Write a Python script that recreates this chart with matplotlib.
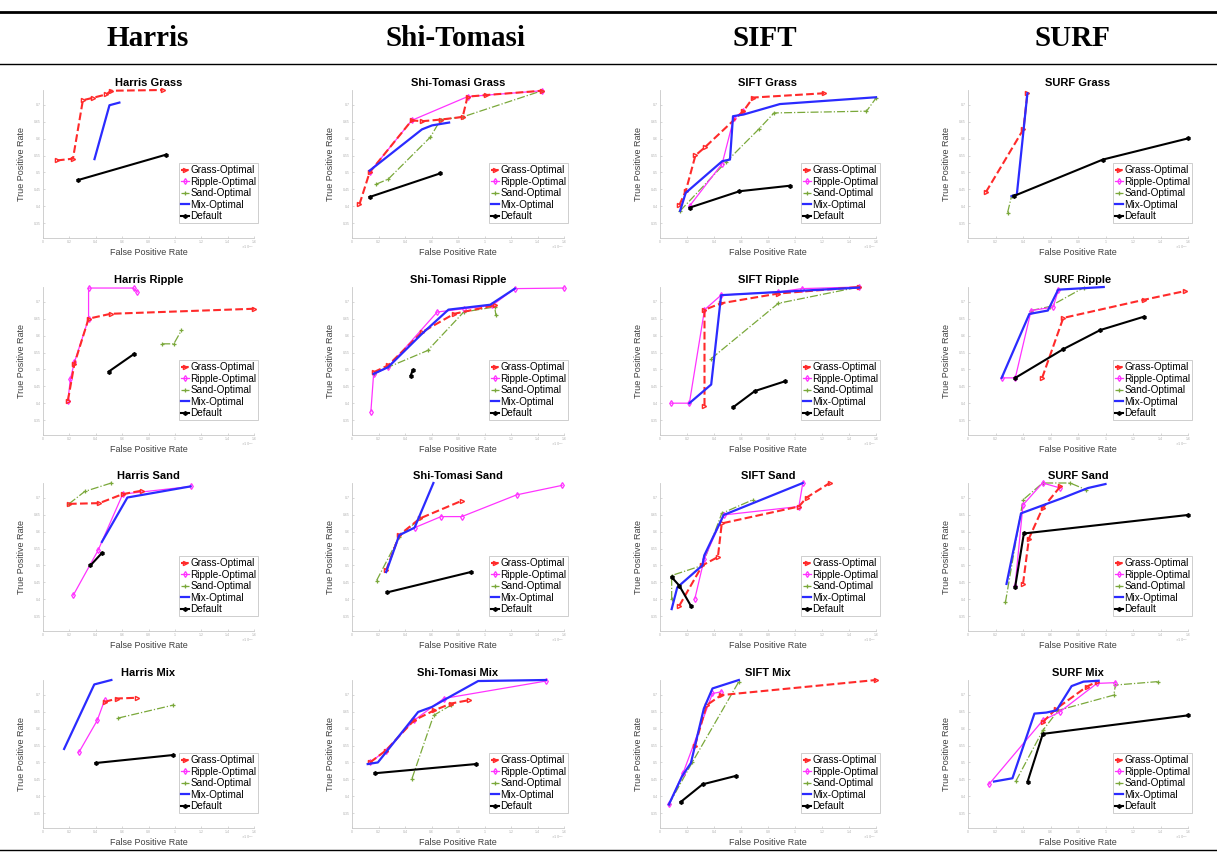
import numpy as np
import matplotlib
matplotlib.use("Agg")
import matplotlib.pyplot as plt
from matplotlib.lines import Line2D

plt.rcParams['font.family'] = ['Liberation Sans', 'DejaVu Sans']

# detectors (columns) and terrains (rows)
detectores = ['Harris', 'Shi-Tomasi', 'SIFT', 'SURF']
terrenos = ['Grass', 'Ripple', 'Sand', 'Mix']
series = ['Grass-Optimal', 'Ripple-Optimal', 'Sand-Optimal', 'Mix-Optimal', 'Default']

# datos (FPR, TPR normalizados al rango del eje)
harris_grass = {
    'Grass-Optimal': ([.066, .142, .189, .236, .299, .323, .567], [.524, .536, .931, .947, .970, .995, 1.0]),
    'Mix-Optimal': ([.244, .315, .362], [.533, .897, .915]),
    'Default': ([.165, .583], [.391, .563]),
}
shi_grass = {
    'Sand-Optimal': ([.115, .171, .37, .418, .522, .896], [.364, .398, .682, .8, .818, .995]),
    'Ripple-Optimal': ([.083, .282, .545, .896], [.443, .795, .955, .995]),
    'Grass-Optimal': ([.035, .083, .282, .330, .418, .522, .545, .633, .896], [.227, .443, .795, .789, .8, .818, .955, .966, .995]),
    'Mix-Optimal': ([.083, .330, .378, .458], [.455, .734, .761, .780]),
    'Default': ([.083, .415], [.277, .436]),
}
sift_grass = {
    'Sand-Optimal': ([.093, .306, .457, .528, .956, 1.0], [.183, .514, .735, .845, .857, .945]),
    'Ripple-Optimal': ([.137, .288, .342, .386], [.216, .503, .812, .857]),
    'Grass-Optimal': ([.089, .119, .164, .208, .386, .431, .760], [.221, .316, .558, .613, .857, .949, .978]),
    'Mix-Optimal': ([.093, .119, .288, .324, .338, .386, .555, 1.0], [.183, .305, .519, .530, .823, .834, .905, .951]),
    'Default': ([.137, .368, .600], [.205, .316, .353]),
}
surf_grass = {
    'Sand-Optimal': ([.18, .198], [.172, .283]),
    'Grass-Optimal': ([.081, .252, .27], [.309, .735, .978]),
    'Mix-Optimal': ([.198, .222, .270], [.283, .294, .978]),
    'Default': ([.207, .613, 1.0], [.283, .530, .673]),
}
harris_ripple = {
    'Sand-Optimal': ([.565, .620, .656], [.616, .616, .707]),
    'Ripple-Optimal': ([.118, .130, .149, .216, .216, .429, .447], [.233, .379, .492, .786, .993, .993, .966]),
    'Grass-Optimal': ([.118, .149, .216, .321, 1.0], [.233, .481, .786, .819, .853]),
    'Default': ([.312, .433], [.429, .549]),
}
shi_ripple = {
    'Sand-Optimal': ([.102, .170, .357, .527, .673, .679], [.413, .458, .571, .831, .865, .808]),
    'Ripple-Optimal': ([.089, .102, .170, .402, .527, .661, .768, 1.0], [.158, .413, .458, .831, .853, .876, .989, .993]),
    'Grass-Optimal': ([.102, .170, .330, .482, .673], [.424, .470, .695, .819, .876]),
    'Mix-Optimal': ([.102, .170, .330, .455, .652, .768], [.413, .458, .684, .847, .880, .989]),
    'Default': ([.277, .286], [.402, .436]),
}
sift_ripple = {
    'Sand-Optimal': ([.237, .548, .922], [.516, .890, 1.0]),
    'Ripple-Optimal': ([.05, .136, .206, .283, .548, .657, .922], [.215, .215, .846, .945, .967, .989, 1.0]),
    'Grass-Optimal': ([.206, .206, .283, .548, .922], [.198, .846, .890, .956, 1.0]),
    'Mix-Optimal': ([.136, .237, .283, .922], [.215, .341, .945, .996]),
    'Default': ([.338, .439, .579], [.187, .297, .363]),
}
surf_ripple = {
    'Sand-Optimal': ([.287, .371, .525], [.841, .868, .995]),
    'Ripple-Optimal': ([.153, .215, .287, .387, .41], [.386, .386, .841, .864, .977]),
    'Grass-Optimal': ([.337, .433, .801, .988], [.386, .791, .914, .973]),
    'Mix-Optimal': ([.153, .279, .363, .41, .617], [.386, .818, .841, .982, 1.0]),
    'Default': ([.215, .433, .601, .801], [.386, .580, .709, .80]),
}
harris_sand = {
    'Sand-Optimal': ([.123, .198, .324], [.859, .943, 1.0]),
    'Ripple-Optimal': ([.144, .261, .378, .703], [.243, .545, .925, .977]),
    'Grass-Optimal': ([.123, .267, .378, .468], [.859, .864, .925, .948]),
    'Mix-Optimal': ([.279, .4, .699], [.602, .902, .977]),
    'Default': ([.225, .279], [.443, .527]),
}
shi_sand = {
    'Sand-Optimal': ([.116, .223, .321], [.341, .636, .761]),
    'Ripple-Optimal': ([.295, .42, .518, .777, .991], [.698, .773, .773, .920, .984]),
    'Grass-Optimal': ([.161, .223, .321, .518], [.409, .648, .761, .880]),
    'Mix-Optimal': ([.161, .223, .295, .384], [.398, .648, .698, 1.0]),
    'Default': ([.166, .559], [.261, .398]),
}
sift_sand = {
    'Sand-Optimal': ([.054, .054, .196, .286, .429], [.216, .375, .443, .795, .886]),
    'Ripple-Optimal': ([.161, .205, .295, .643, .661], [.216, .489, .784, .841, 1.0]),
    'Grass-Optimal': ([.089, .196, .268, .286, .643, .679, .786], [.170, .443, .5, .727, .841, .902, 1.0]),
    'Mix-Optimal': ([.054, .080, .196, .205, .295, .661], [.148, .295, .443, .511, .784, 1.0]),
    'Default': ([.054, .089, .143], [.364, .307, .170]),
}
surf_sand = {
    'Sand-Optimal': ([.170, .25, .339, .464, .536], [.193, .886, 1.0, 1.0, .955]),
    'Ripple-Optimal': ([.214, .25, .339, .420], [.307, .852, 1.0, .966]),
    'Grass-Optimal': ([.25, .277, .339, .420], [.318, .625, .830, .977]),
    'Mix-Optimal': ([.175, .241, .429, .545, .625], [.318, .795, .898, .966, .993]),
    'Default': ([.214, .254, 1.0], [.295, .659, .784]),
}
harris_mix = {
    'Sand-Optimal': ([.357, .616], [.743, .830]),
    'Ripple-Optimal': ([.170, .257, .292], [.511, .727, .864]),
    'Grass-Optimal': ([.292, .351, .446], [.852, .875, .880]),
    'Mix-Optimal': ([.1, .243, .324], [.534, .970, 1.0]),
    'Default': ([.249, .616], [.439, .493]),
}
shi_mix = {
    'Sand-Optimal': ([.283, .385, .467], [.334, .761, .830]),
    'Ripple-Optimal': ([.085, .159, .292, .433, .915], [.443, .523, .727, .875, .993]),
    'Grass-Optimal': ([.085, .159, .292, .388, .467, .552], [.443, .523, .727, .795, .841, .864]),
    'Mix-Optimal': ([.074, .122, .312, .377, .433, .595, .915], [.432, .443, .784, .818, .864, .993, 1.0]),
    'Default': ([.108, .584], [.370, .432]),
}
sift_mix = {
    'Sand-Optimal': ([.041, .149, .365], [.159, .443, .989]),
    'Ripple-Optimal': ([.041, .108, .243, .284], [.159, .375, .909, .92]),
    'Grass-Optimal': ([.162, .216, .284, 1.0], [.557, .830, .898, 1.0]),
    'Mix-Optimal': ([.041, .103, .143, .203, .243, .365], [.159, .352, .439, .807, .943, 1.0]),
    'Default': ([.095, .197, .351], [.175, .295, .352]),
}
surf_mix = {
    'Sand-Optimal': ([.218, .340, .41, .663, .670, .862], [.318, .659, .795, .898, .966, .989]),
    'Ripple-Optimal': ([.095, .340, .417, .586, .670], [.295, .727, .784, .977, .982]),
    'Grass-Optimal': ([.34, .402, .54, .586], [.716, .807, .955, .989]),
    'Mix-Optimal': ([.118, .202, .302, .356, .402, .471, .525, .594], [.314, .336, .773, .780, .795, .959, .989, .995]),
    'Default': ([.271, .340, 1.0], [.314, .636, .761]),
}

paneles = [
    [harris_grass, shi_grass, sift_grass, surf_grass],
    [harris_ripple, shi_ripple, sift_ripple, surf_ripple],
    [harris_sand, shi_sand, sift_sand, surf_sand],
    [harris_mix, shi_mix, sift_mix, surf_mix],
]

estilos = {
    'Grass-Optimal': dict(color='#ff2a2a', ls='--', lw=1.5, marker='>', ms=3, mfc='none', mew=1.0),
    'Ripple-Optimal': dict(color='#ff33ff', ls='-', lw=0.9, marker='d', ms=3, mfc='none', mew=0.9),
    'Sand-Optimal': dict(color='#7aa83a', ls='-.', lw=0.9, marker='+', ms=3, mew=0.9),
    'Mix-Optimal': dict(color='#2b2bff', ls='-', lw=1.6),
    'Default': dict(color='black', ls='-', lw=1.5, marker='h', ms=2.5),
}
orden = ['Sand-Optimal', 'Ripple-Optimal', 'Grass-Optimal', 'Mix-Optimal', 'Default']

W, H = 1217, 852
fig = plt.figure(figsize=(W / 100, H / 100), dpi=100)

# posicion de los ejes en pixeles
col_izq = [43, 352, 660, 968]
col_ancho = [211, 212, 216, 220]
fila_sup = [90, 287, 483, 680]
fila_alto = 148

# tabla: lineas y encabezados
for y, lw in [(12, 2.0), (64, 1.0), (850, 1.0)]:
    fig.add_artist(Line2D([0, 1], [1 - y / H, 1 - y / H], color='black', lw=lw))
cabecera_x = [148, 455, 765, 1072]
for nombre, cx in zip(detectores, cabecera_x):
    fig.text(cx / W, 1 - 38 / H, nombre, ha='center', va='center', fontsize=21,
             fontweight='bold', family='Liberation Serif')

gris = '#c8c8c8'
handles = [Line2D([], [], **estilos[s]) for s in series]

for i, terreno in enumerate(terrenos):
    for j, det in enumerate(detectores):
        rect = [col_izq[j] / W, 1 - (fila_sup[i] + fila_alto) / H, col_ancho[j] / W, fila_alto / H]
        ax = fig.add_axes(rect)
        datos = paneles[i][j]
        for s in orden:
            if s in datos:
                xs, ys = datos[s]
                ax.plot(xs, ys, clip_on=False, **estilos[s])
        ax.set_xlim(0, 1)
        ax.set_ylim(0, 1)
        for lado in ['top', 'right']:
            ax.spines[lado].set_visible(False)
        for lado in ['left', 'bottom']:
            ax.spines[lado].set_color(gris)
            ax.spines[lado].set_linewidth(0.6)
        ax.set_xticks(np.linspace(0, 1, 9))
        ax.set_xticklabels(['0', '0.2', '0.4', '0.6', '0.8', '1', '1.2', '1.4', '1.6'])
        ax.set_yticks(np.linspace(0.1, 0.9, 8))
        ax.set_yticklabels(['0.35', '0.4', '0.45', '0.5', '0.55', '0.6', '0.65', '0.7'])
        ax.tick_params(labelsize=2.5, labelcolor='#b0b0b0', color=gris, length=1.5,
                       width=0.5, direction='in', pad=1.5)
        ax.text(1.0, -0.04, r'$\times10^{-3}$', transform=ax.transAxes, fontsize=2.5,
                color='#b0b0b0', ha='right', va='top')
        ax.set_title(f'{det} {terreno}', fontsize=8, fontweight='bold', pad=3)
        ax.set_xlabel('False Positive Rate', fontsize=6.5, color='#404040', labelpad=3)
        ax.set_ylabel('True Positive Rate', fontsize=6.5, color='#404040', labelpad=6)
        leg = ax.legend(handles, series, loc='lower right', bbox_to_anchor=(1.02, 0.1),
                        fontsize=7.2, frameon=True, fancybox=False, borderpad=0.2,
                        labelspacing=0.15, handlelength=0.8, handletextpad=0.1,
                        borderaxespad=0)
        leg.get_frame().set_edgecolor('#b8b8b8')
        leg.get_frame().set_linewidth(0.6)

fig.savefig('out.png', dpi=100)
